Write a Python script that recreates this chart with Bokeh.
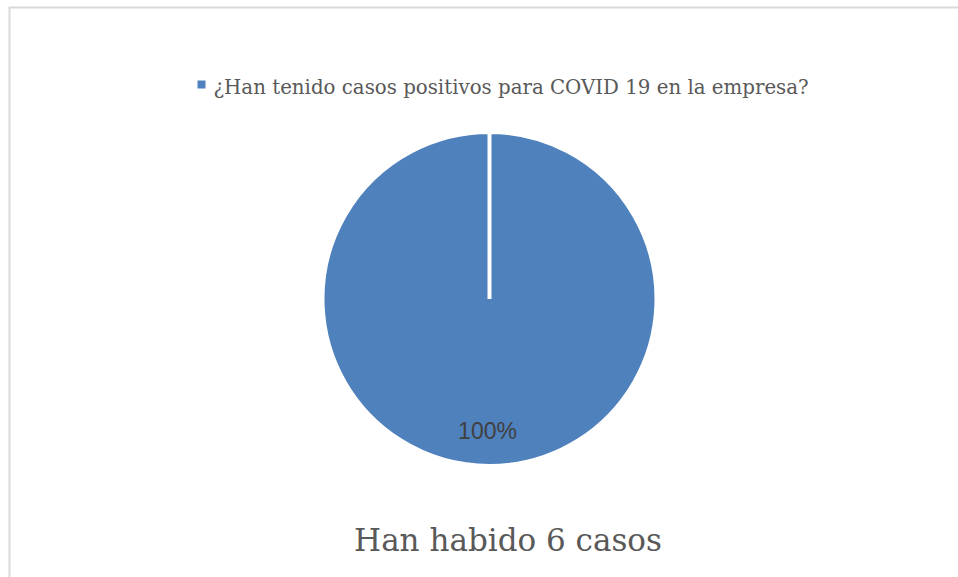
import math
from bokeh.plotting import figure
from bokeh.models import Range1d
from bokeh.core.properties import value
from bokeh.embed import file_html
from bokeh.resources import INLINE

# ---- data ----
categories = ["¿Han tenido casos positivos para COVID 19 en la empresa?"]
counts = [6]
title_text = "Han habido 6 casos"
colors = ["#4f81bd"]

total = sum(counts)
fracs = [c / total for c in counts]
pct_labels = [f"{round(f * 100)}%" for f in fracs]

W, H = 958, 577


def Y(y):
    # convert a top-down pixel position to the data y (bottom-up)
    return H - y


p = figure(width=W, height=H, output_backend="svg", toolbar_location=None,
           x_range=Range1d(0, W), y_range=Range1d(0, H), min_border=0,
           background_fill_color="white", border_fill_color="white")
p.axis.visible = False
p.grid.visible = False
p.outline_line_color = None

# chart area border (top and left edges visible)
p.segment(x0=[8, 9], y0=[Y(7), Y(7)], x1=[W, 9], y1=[Y(7), 0],
          line_color="#d9d9d9", line_width=2)

cx, cy, r = 489, Y(298.5), 167
start = math.pi / 2
angles = [start]
for f in fracs:
    angles.append(angles[-1] - 2 * math.pi * f * 0.99999)
p.wedge(x=[cx] * len(counts), y=[cy] * len(counts), radius=r,
        start_angle=angles[:-1], end_angle=angles[1:], direction="clock",
        fill_color=colors, line_color="white", line_width=4)

# data label
p.text(x=[487], y=[Y(430)], text=pct_labels, text_align="center",
       text_baseline="middle", text_font=value("Liberation Sans"),
       text_font_size="23px", text_color="#404040")

# legend
p.scatter(x=[201], y=[Y(84)], marker="square", size=8, fill_color=colors[0],
          line_color=None)
p.text(x=[213], y=[Y(87)], text=categories, text_align="left",
       text_baseline="alphabetic", text_font=value("DejaVu Serif"),
       text_font_size="19.8px", text_color="#595959")

# title (bottom)
p.text(x=[507.5], y=[Y(539)], text=[title_text], text_align="center",
       text_baseline="alphabetic", text_font=value("DejaVu Serif"),
       text_font_size="31px", text_color="#595959")

open("out.html", "w").write(file_html(p, INLINE))
